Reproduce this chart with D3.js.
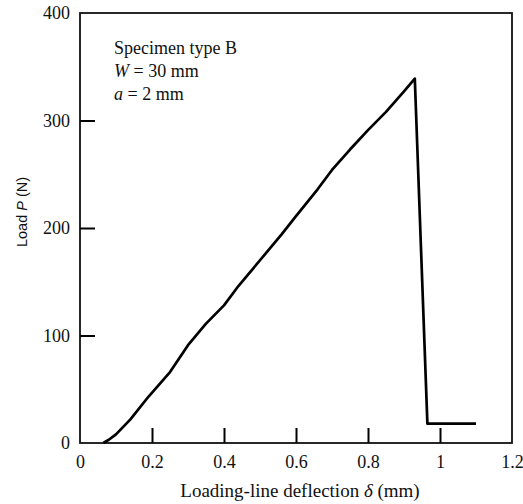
<!DOCTYPE html>
<html>
<head>
<meta charset="utf-8">
<script src="https://cdn.jsdelivr.net/npm/d3@7"></script>
<style>
  body { margin: 0; background: #fff; }
  text { fill: #111; }
</style>
</head>
<body>
<script>
// load-deflection record
const deflection = [0.065, 0.08, 0.10, 0.14, 0.19, 0.25, 0.30, 0.35, 0.40, 0.44, 0.50, 0.56, 0.60, 0.66, 0.70, 0.75, 0.80, 0.85, 0.90, 0.93, 0.965, 1.10];
const load = [0, 3, 8, 22, 43, 66, 91, 111, 128, 146, 170, 194, 211, 236, 254, 273, 291, 308, 327, 339, 18, 18];

const xTicks = [0, 0.2, 0.4, 0.6, 0.8, 1, 1.2];
const yTicks = [0, 100, 200, 300, 400];
const notes = ['Specimen type B', 'W = 30 mm', 'a = 2 mm'];

const width = 523;
const height = 504;
const margin = {top: 13, right: 11, bottom: 61, left: 80};

const svg = d3.select('body')
  .append('svg')
  .attr('width', width)
  .attr('height', height);

const x = d3.scaleLinear()
  .domain([0, 1.2])
  .range([margin.left, width - margin.right]);

const y = d3.scaleLinear()
  .domain([0, 400])
  .range([height - margin.bottom, margin.top]);

const serif = '"Liberation Serif", "Times New Roman", serif';

// frame
svg.append('rect')
  .attr('x', x(0))
  .attr('y', y(400))
  .attr('width', x(1.2) - x(0))
  .attr('height', y(0) - y(400))
  .attr('fill', 'none')
  .attr('stroke', '#111')
  .attr('stroke-width', 1.8);

// x axis, ticks pointing inwards (none at the corners)
const xAxis = svg.append('g')
  .attr('transform', `translate(0,${y(0)})`)
  .call(d3.axisBottom(x).tickValues(xTicks).tickSize(0).tickPadding(0)
    .tickFormat(d => d === 0 ? '0' : d === 1 ? '1' : d3.format('.1f')(d)));
xAxis.select('.domain').remove();
xAxis.selectAll('.tick line')
  .attr('y2', d => (d === 0 || d === 1.2) ? 0 : -15)
  .attr('stroke', '#000')
  .attr('stroke-width', 2);
xAxis.selectAll('text')
  .attr('y', 12)
  .attr('dy', '0.71em')
  .style('font-family', serif)
  .style('font-size', '18px');

const yAxis = svg.append('g')
  .attr('transform', `translate(${x(0)},0)`)
  .call(d3.axisLeft(y).tickValues(yTicks).tickSize(0).tickPadding(0));
yAxis.select('.domain').remove();
yAxis.selectAll('.tick line')
  .attr('x2', d => (d === 0 || d === 400) ? 0 : 15)
  .attr('stroke', '#000')
  .attr('stroke-width', 2);
yAxis.selectAll('text')
  .attr('x', -10)
  .style('font-family', serif)
  .style('font-size', '18px');

// axis titles
const xt = svg.append('text')
  .attr('x', 300)
  .attr('y', 497)
  .attr('text-anchor', 'middle')
  .style('font-family', serif)
  .style('font-size', '19px');
xt.append('tspan').text('Loading-line deflection ');
xt.append('tspan').style('font-style', 'italic').text('δ');
xt.append('tspan').text(' (mm)');

const yt = svg.append('text')
  .attr('transform', 'translate(27,212) rotate(-90)')
  .attr('text-anchor', 'middle')
  .style('font-family', '"Liberation Sans", Arial, sans-serif')
  .style('font-size', '14.5px');
yt.append('tspan').text('Load ');
yt.append('tspan').style('font-style', 'italic').text('P');
yt.append('tspan').text(' (N)');

// annotation
const note = svg.append('g')
  .style('font-family', serif)
  .style('font-size', '18px');
note.append('text').attr('x', 114).attr('y', 54).text(notes[0]);
const n2 = note.append('text').attr('x', 114).attr('y', 77);
n2.append('tspan').style('font-style', 'italic').text('W');
n2.append('tspan').text(notes[1].slice(1));
const n3 = note.append('text').attr('x', 114).attr('y', 100);
n3.append('tspan').style('font-style', 'italic').text('a');
n3.append('tspan').text(notes[2].slice(1));

// curve
const pts = deflection.map((d, i) => [d, load[i]]);
svg.append('path')
  .datum(pts)
  .attr('fill', 'none')
  .attr('stroke', '#000')
  .attr('stroke-width', 2.7)
  .attr('stroke-linejoin', 'round')
  .attr('d', d3.line().x(d => x(d[0])).y(d => y(d[1])));
</script>
</body>
</html>
